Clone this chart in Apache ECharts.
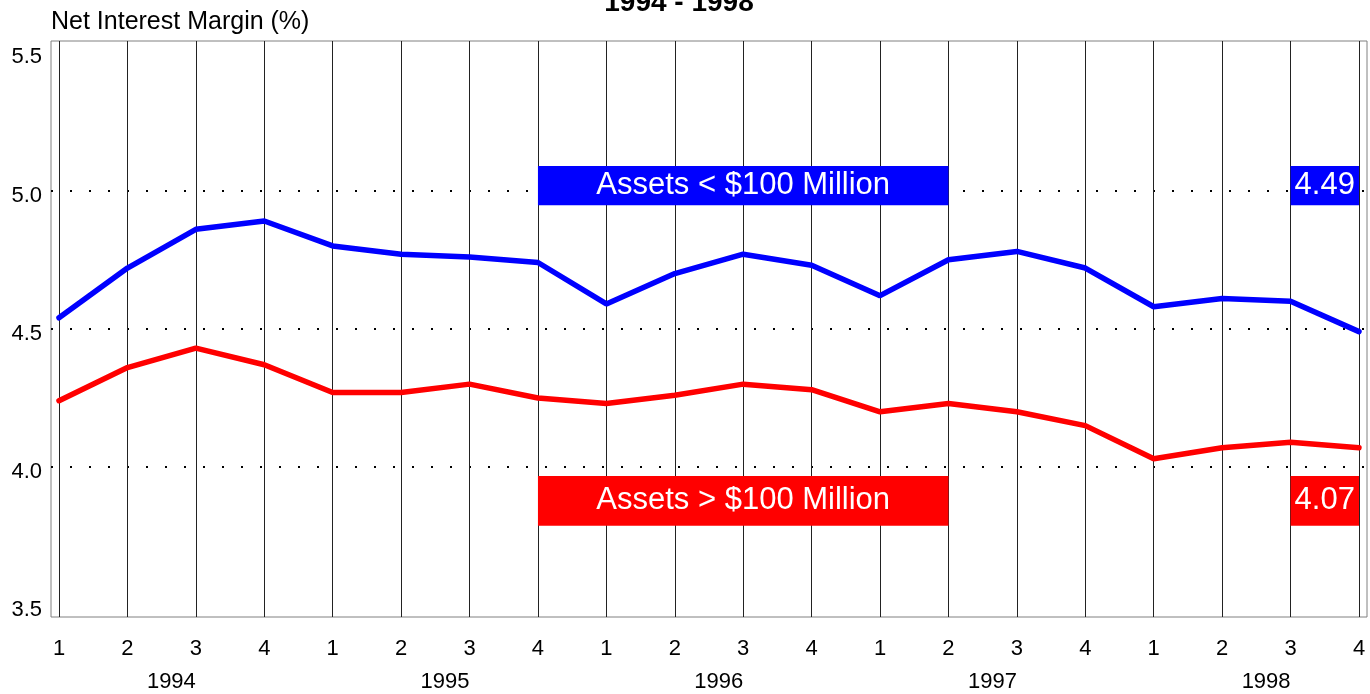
<!DOCTYPE html>
<html>
<head>
<meta charset="utf-8">
<script src="https://cdn.jsdelivr.net/npm/echarts@6/dist/echarts.min.js"></script>
<style>
html,body{margin:0;padding:0;background:#fff;}
#chart{width:1370px;height:694px;}
</style>
</head>
<body>
<div id="chart"></div>
<script>
// ---- data ----
const years = ['1994', '1995', '1996', '1997', '1998'];
const quarters = ['1', '2', '3', '4'];
const smallBanks = [4.54, 4.72, 4.86, 4.89, 4.80, 4.77, 4.76, 4.74, 4.59, 4.70,
                    4.77, 4.73, 4.62, 4.75, 4.78, 4.72, 4.58, 4.61, 4.60, 4.49];
const largeBanks = [4.24, 4.36, 4.43, 4.37, 4.27, 4.27, 4.30, 4.25, 4.23, 4.26,
                    4.30, 4.28, 4.20, 4.23, 4.20, 4.15, 4.03, 4.07, 4.09, 4.07];
const yTicks = [3.5, 4.0, 4.5, 5.0, 5.5];
const smallName = 'Assets < $100 Million';
const largeName = 'Assets > $100 Million';
const yTitle = 'Net Interest Margin (%)';
const mainTitle = '1994 - 1998';

// ---- derived ----
const categories = [];
const yearLabels = [];
years.forEach(y => quarters.forEach((q, qi) => {
  categories.push(q);
  yearLabels.push(qi === 2 ? y : '');
}));
const toPairs = arr => arr.map((v, i) => [i, v]);
const last = arr => arr[arr.length - 1];
const n = categories.length;

const FONT = 'Liberation Sans, Arial, sans-serif';
const chart = echarts.init(document.getElementById('chart'), null, {renderer: 'canvas'});

const option = {
  animation: false,
  backgroundColor: '#fff',
  title: [{
    text: yTitle, left: 46, top: 5,
    textStyle: {fontFamily: FONT, fontSize: 25, fontWeight: 'normal', color: '#000'}
  }],
  graphic: [{
    type: 'text', x: 679, y: 17, silent: true,
    style: {text: mainTitle, font: 'bold 28px ' + FONT, fill: '#000',
            textAlign: 'center', textVerticalAlign: 'bottom'}
  }],
  grid: [
    {left: 51, top: 41, width: 1316, height: 576, show: true, borderColor: '#808080', borderWidth: 1, backgroundColor: 'transparent'},
    {left: 59, top: 41, width: 1300, height: 576},
    {left: 51, top: 52.4, width: 1316, height: 552.9}
  ],
  xAxis: [
    {gridIndex: 0, type: 'value', show: false, min: 0, max: 1},
    {gridIndex: 1, type: 'category', boundaryGap: false, data: categories, position: 'bottom',
     axisLine: {show: false}, axisTick: {show: false},
     splitLine: {show: true, interval: 0, lineStyle: {color: '#222', width: 1}},
     axisLabel: {interval: 0, margin: 21, fontFamily: FONT, fontSize: 22, color: '#000'}},
    {gridIndex: 1, type: 'category', boundaryGap: false, data: yearLabels, position: 'bottom',
     axisLine: {show: false}, axisTick: {show: false}, splitLine: {show: false},
     axisLabel: {interval: 0, margin: 54, align: 'right', fontFamily: FONT, fontSize: 22, color: '#000'}},
    {gridIndex: 2, type: 'value', show: false, min: -0.117, max: n - 1 + 0.117}
  ],
  yAxis: [
    {gridIndex: 0, type: 'value', show: false, min: 0, max: 1},
    {gridIndex: 1, type: 'value', show: false, min: 0, max: 1},
    {gridIndex: 2, type: 'value', min: yTicks[0], max: yTicks[yTicks.length - 1], interval: 0.5,
     axisLine: {show: false}, axisTick: {show: false},
     axisLabel: {margin: 9, fontFamily: FONT, fontSize: 22, color: '#000',
                 verticalAlign: 'top', lineHeight: 10,
                 formatter: v => v.toFixed(1)},
     splitLine: {show: true, showMinLine: false, showMaxLine: false,
                 lineStyle: {color: '#000', width: 2, type: [2, 17]}}}
  ],
  series: [
    {
      name: smallName, type: 'line', xAxisIndex: 3, yAxisIndex: 2,
      data: toPairs(smallBanks), showSymbol: false, symbol: 'none',
      lineStyle: {color: '#0000ff', width: 5.5, cap: 'round'}, itemStyle: {color: '#0000ff'},
      z: 3,
      markArea: {
        silent: true,
        itemStyle: {color: '#0000ff', opacity: 1},
        label: {show: true, position: 'inside', color: '#fff', fontFamily: FONT, fontSize: 31},
        data: [
          [{xAxis: 7, yAxis: 5.089, name: smallName}, {xAxis: 13, yAxis: 4.947}],
          [{xAxis: n - 2, yAxis: 5.089, name: last(smallBanks).toFixed(2)}, {xAxis: n - 1, yAxis: 4.947}]
        ]
      }
    },
    {
      name: largeName, type: 'line', xAxisIndex: 3, yAxisIndex: 2,
      data: toPairs(largeBanks), showSymbol: false, symbol: 'none',
      lineStyle: {color: '#ff0000', width: 5.5, cap: 'round'}, itemStyle: {color: '#ff0000'},
      z: 3,
      markArea: {
        silent: true,
        itemStyle: {color: '#ff0000', opacity: 1},
        label: {show: true, position: 'inside', color: '#fff', fontFamily: FONT, fontSize: 31, padding: [0, 0, 6, 0]},
        data: [
          [{xAxis: 7, yAxis: 3.968, name: largeName}, {xAxis: 13, yAxis: 3.788}],
          [{xAxis: n - 2, yAxis: 3.968, name: last(largeBanks).toFixed(2)}, {xAxis: n - 1, yAxis: 3.788}]
        ]
      }
    }
  ]
};
chart.setOption(option);
</script>
</body>
</html>
